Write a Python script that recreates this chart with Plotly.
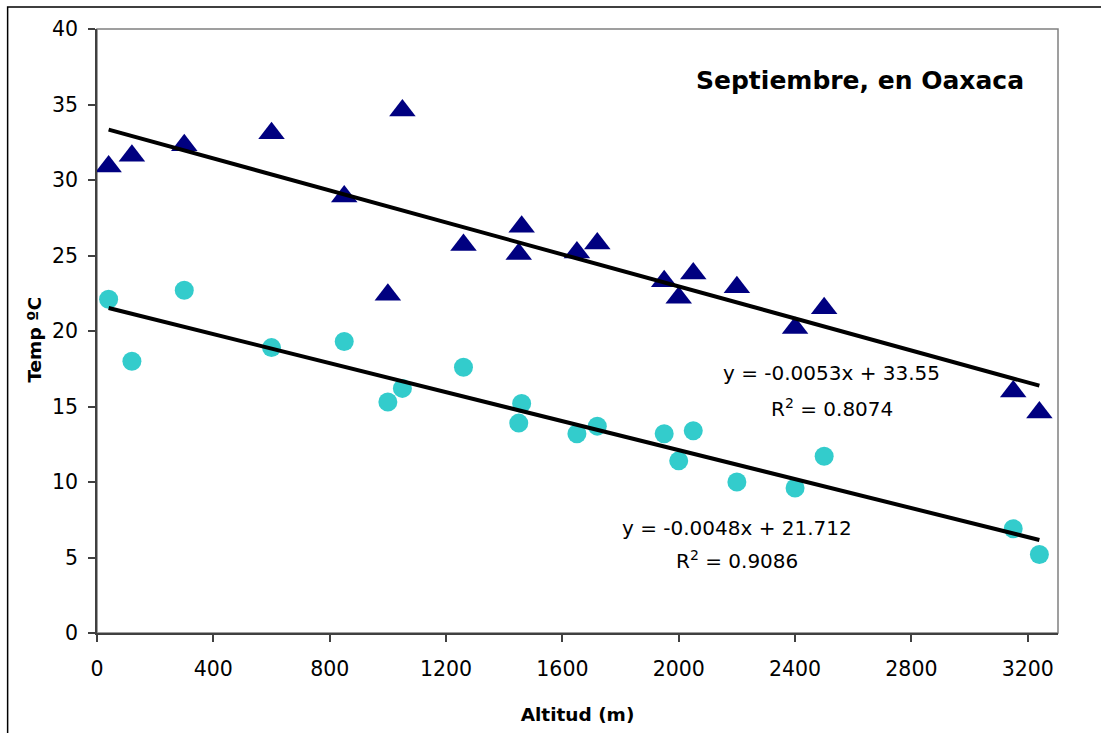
import plotly.graph_objects as go

# Data
altitud = [40, 120, 300, 600, 850, 1000, 1050, 1260, 1460, 1450,
           1650, 1720, 1950, 2000, 2050, 2200, 2400, 2500, 3150, 3240]
temp_max = [30.9, 31.6, 32.3, 33.1, 28.9, 22.4, 34.6, 25.7, 26.9, 25.1,
            25.2, 25.8, 23.3, 22.2, 23.8, 22.9, 20.2, 21.5, 16.0, 14.6]
temp_min = [22.1, 18.0, 22.7, 18.9, 19.3, 15.3, 16.2, 17.6, 15.2, 13.9,
            13.2, 13.7, 13.2, 11.4, 13.4, 10.0, 9.6, 11.7, 6.9, 5.2]

# Trendline coefficients (as printed on the chart)
slope_max, inter_max, r2_max = -0.0053, 33.55, 0.8074
slope_min, inter_min, r2_min = -0.0048, 21.712, 0.9086

x_ticks = [0, 400, 800, 1200, 1600, 2000, 2400, 2800, 3200]
y_ticks = [0, 5, 10, 15, 20, 25, 30, 35, 40]

FONT = "DejaVu Sans"
xr = [min(altitud), max(altitud)]

fig = go.Figure()
fig.add_trace(go.Scatter(x=altitud, y=temp_max, mode="markers",
                         marker=dict(symbol="triangle-up", size=23, color="#000080"),
                         showlegend=False))
fig.add_trace(go.Scatter(x=altitud, y=temp_min, mode="markers",
                         marker=dict(symbol="circle", size=19, color="#33CCCC"),
                         showlegend=False))
fig.add_trace(go.Scatter(x=xr, y=[slope_max * v + inter_max for v in xr], mode="lines",
                         line=dict(color="black", width=4), showlegend=False))
fig.add_trace(go.Scatter(x=xr, y=[slope_min * v + inter_min for v in xr], mode="lines",
                         line=dict(color="black", width=4), showlegend=False))

tf = dict(family=FONT, size=20.5, color="black")

def ann(x, y, text):
    fig.add_annotation(x=x, y=y, xref="x", yref="y", text=text, showarrow=False,
                       font=dict(family=FONT, size=20, color="black"),
                       xanchor="center", yanchor="middle")

ann(2526, 17.2, f"y = {slope_max}x + {inter_max}")
ann(2526, 14.9, f"R<sup>2</sup> = {r2_max}")
ann(2202, 6.94, f"y = {slope_min}x + {inter_min}")
ann(2202, 4.82, f"R<sup>2</sup> = {r2_min}")

fig.add_annotation(x=0.9665, y=0.915, xref="paper", yref="paper",
                   text="<b>Septiembre, en Oaxaca</b>", showarrow=False,
                   font=dict(family=FONT, size=25, color="black"),
                   xanchor="right", yanchor="middle")

# y-axis title
fig.add_annotation(x=-0.065, y=0.485, xref="paper", yref="paper",
                   text="<b>Temp ºC</b>", showarrow=False, textangle=-90,
                   font=dict(family=FONT, size=18.5, color="black"),
                   xanchor="center", yanchor="middle")

# plot area border (top/right grey)
fig.add_shape(type="rect", xref="paper", yref="paper", x0=0, y0=0, x1=1, y1=1,
              line=dict(color="#808080", width=1.5), layer="below")
# outer chart border
fig.add_shape(type="rect", xref="paper", yref="paper", x0=-0.093, y0=-0.2, x1=1.2, y1=1.0365,
              line=dict(color="black", width=1.5), layer="below")

axis_common = dict(showgrid=False, zeroline=False, showline=True, linecolor="#404040",
                   linewidth=1.5, ticks="outside", ticklen=7, tickcolor="#404040",
                   tickwidth=1.5, tickfont=tf, mirror=False)

fig.update_xaxes(range=[0, 3304], tickvals=x_ticks, ticktext=[str(v) for v in x_ticks],
                 title=dict(text="<b>Altitud (m)</b>", font=dict(family=FONT, size=18.5, color="black"),
                            standoff=28),
                 ticklabelstandoff=10, **axis_common)
fig.update_yaxes(range=[0, 40], tickvals=y_ticks, ticktext=[str(v) for v in y_ticks],
                 ticklabelstandoff=6, **axis_common)

fig.update_layout(width=1101, height=733, margin=dict(l=97, r=43, t=29, b=100),
                  paper_bgcolor="white", plot_bgcolor="white")

fig.write_html("out.html")
